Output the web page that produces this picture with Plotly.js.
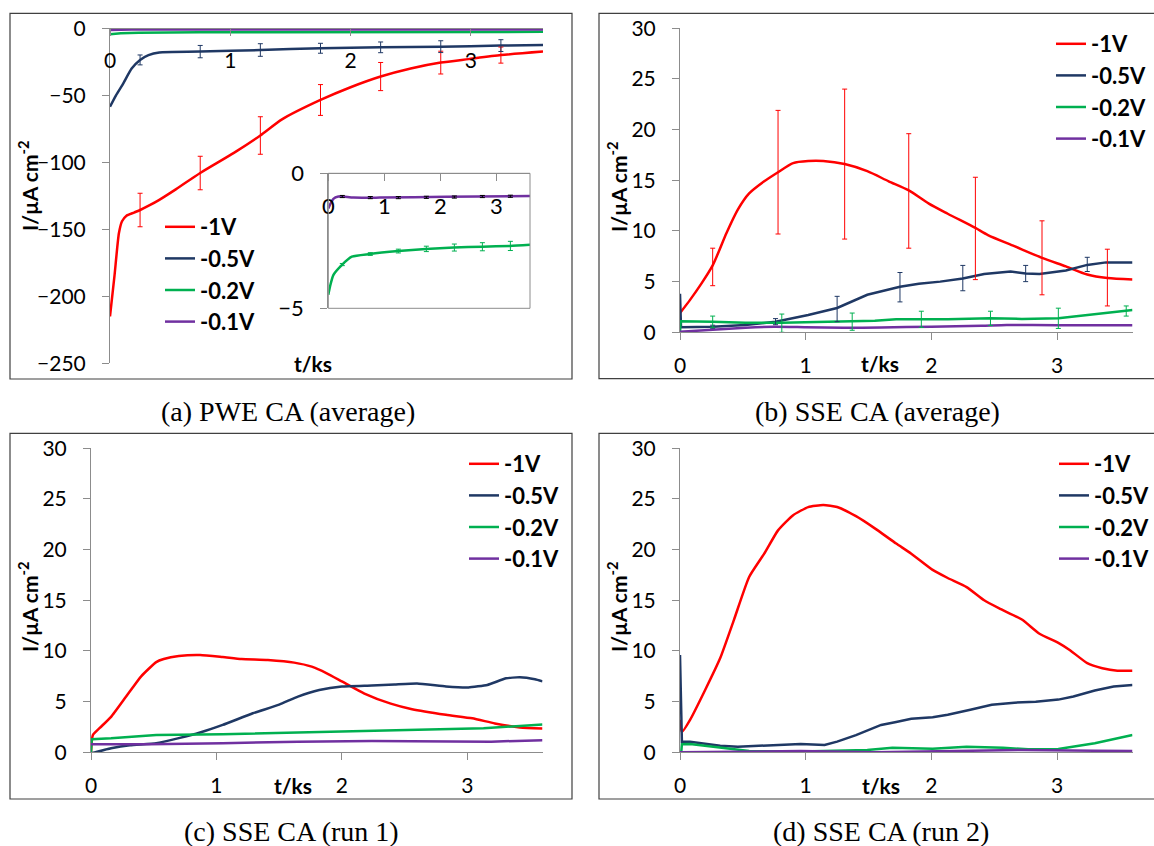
<!DOCTYPE html>
<html>
<head>
<meta charset="utf-8">
<script src="https://cdn.plot.ly/plotly-3.0.1.min.js"></script>
<style>html,body{margin:0;padding:0;background:#fff;}#chart{width:1154px;height:846px;}</style>
</head>
<body>
<div id="chart"></div>
<script>
// ---------------- DATA ----------------
const seriesNames = ['-1V', '-0.5V', '-0.2V', '-0.1V'];
const captions = ['(a) PWE CA (average)', '(b) SSE CA (average)', '(c) SSE CA (run 1)', '(d) SSE CA (run 2)'];
const yTitle = 'I/µA cm<sup>-2</sup>';
const xTitle = 't/ks';
const xTickVals = [0, 1, 2, 3];
const yTicksA = [0, -50, -100, -150, -200, -250];
const yTicksInset = [0, -5];
const yTicksSSE = [0, 5, 10, 15, 20, 25, 30];

// (a) PWE CA average
const a_t_1V = [0, 0.037, 0.074, 0.1, 0.135, 0.2, 0.25, 0.33, 0.41, 0.55, 0.75, 1.03, 1.25, 1.43, 1.75, 2.0, 2.25, 2.5, 2.75, 2.98, 3.25, 3.6];
const a_1V   = [-215, -185, -153, -144, -140, -137.5, -135.6, -132, -128, -120, -108, -93, -80, -68, -53.5, -44, -36, -30, -25.6, -23, -20, -17.4];
const a_t_05 = [0, 0.05, 0.105, 0.18, 0.25, 0.32, 0.41, 0.75, 1.25, 1.75, 2.25, 2.75, 3.25, 3.6];
const a_05   = [-58.5, -50, -42, -30, -23.6, -20, -18, -17.4, -16.2, -14.9, -14.2, -13.7, -12.9, -12.4];
const a_t_02 = [0, 0.03, 0.09, 0.24, 0.42, 0.74, 1.25, 1.74, 2.24, 2.75, 3.24, 3.6];
const a_02   = [-4.5, -4.2, -3.77, -3.4, -3.09, -2.99, -2.88, -2.8, -2.75, -2.72, -2.69, -2.65];
const a_t_01 = [0, 0.09, 0.18, 0.27, 0.45, 0.92, 2.1, 3.6];
const a_01   = [-1.3, -0.95, -0.86, -0.86, -0.9, -0.9, -0.87, -0.84];
const a_err_t  = [0.25, 0.75, 1.25, 1.75, 2.25, 2.75, 3.25];
const a_err_y_1V = [-135.6, -108, -80, -53.5, -36, -25.6, -20];
const a_err_1V   = [12.5, 12.5, 14, 11.5, 10.5, 8.5, 6];
const a_err_y_05 = [-23.6, -17.4, -16.2, -14.9, -14.2, -13.7, -12.9];
const a_err_05   = [3.7, 4.6, 4.7, 3.7, 4, 4.4, 4.4];
const a_err_y_02 = [-3.38, -2.99, -2.88, -2.8, -2.75, -2.72, -2.69];
const a_err_02   = [0.04, 0.05, 0.07, 0.1, 0.13, 0.15, 0.17];
const a_err_y_01 = [-0.86, -0.9, -0.9, -0.89, -0.88, -0.86, -0.85];
const a_err_01   = [0.04, 0.04, 0.04, 0.04, 0.04, 0.04, 0.04];

// (b) SSE CA average
const b_t_1V = [0, 0.08, 0.17, 0.26, 0.37, 0.46, 0.55, 0.67, 0.78, 0.9, 1.02, 1.14, 1.31, 1.49, 1.66, 1.82, 1.98, 2.13, 2.35, 2.45, 2.66, 2.88, 3.07, 3.24, 3.4, 3.6];
const b_1V   = [1.9, 3.2, 4.8, 6.6, 9.8, 12.1, 13.7, 14.9, 15.8, 16.7, 16.9, 16.9, 16.6, 15.9, 14.9, 14.0, 12.7, 11.7, 10.3, 9.6, 8.5, 7.35, 6.5, 5.7, 5.35, 5.2];
const b_t_05 = [0, 0.008, 0.26, 0.52, 0.76, 1.02, 1.25, 1.49, 1.75, 1.9, 2.07, 2.25, 2.42, 2.63, 2.75, 2.86, 3.07, 3.24, 3.39, 3.6];
const b_05   = [3.8, 0.5, 0.56, 0.72, 1.05, 1.7, 2.4, 3.7, 4.5, 4.8, 5.0, 5.3, 5.75, 6.0, 5.8, 5.75, 6.1, 6.65, 6.9, 6.9];
const b_t_02 = [0, 0.005, 0.26, 0.52, 0.81, 1.1, 1.37, 1.55, 1.72, 1.92, 2.13, 2.47, 2.72, 3.01, 3.3, 3.6];
const b_02   = [0, 1.1, 1.05, 0.95, 0.95, 1.0, 1.05, 1.15, 1.28, 1.28, 1.3, 1.38, 1.32, 1.38, 1.8, 2.2];
const b_t_01 = [0, 0.26, 0.52, 0.75, 1.0, 1.3, 1.6, 2.0, 2.4, 2.6, 3.0, 3.6];
const b_01   = [0.05, 0.25, 0.45, 0.55, 0.5, 0.45, 0.48, 0.55, 0.65, 0.72, 0.7, 0.7];
const b_err_t_1V = [0.26, 0.78, 1.31, 1.82, 2.35, 2.88, 3.4];
const b_err_y_1V = [6.45, 15.8, 16.6, 13.95, 10.25, 7.35, 5.4];
const b_err_1V   = [1.85, 6.1, 7.4, 5.65, 5.05, 3.65, 2.8];
const b_err_t_05 = [0.26, 0.76, 1.25, 1.75, 2.25, 2.75, 3.24];
const b_err_y_05 = [0.55, 1.05, 2.3, 4.45, 5.35, 5.8, 6.7];
const b_err_05   = [0.15, 0.3, 1.25, 1.45, 1.25, 0.8, 0.7];
const b_err_t_02 = [0.26, 0.81, 1.37, 1.92, 2.47, 3.01, 3.55];
const b_err_y_02 = [1.05, 0.9, 1.05, 1.28, 1.38, 1.38, 2.1];
const b_err_02   = [0.55, 0.9, 0.85, 0.8, 0.7, 1.0, 0.5];

// (c) SSE CA run 1
const c_t_1V = [0, 0.015, 0.07, 0.16, 0.28, 0.4, 0.52, 0.58, 0.7, 0.87, 1.05, 1.2, 1.41, 1.62, 1.76, 1.88, 2.0, 2.18, 2.39, 2.56, 2.83, 3.04, 3.22, 3.42, 3.6];
const c_1V   = [0, 1.7, 2.4, 3.5, 5.5, 7.5, 8.9, 9.2, 9.5, 9.6, 9.4, 9.2, 9.1, 8.85, 8.45, 7.8, 7.0, 5.8, 4.8, 4.25, 3.7, 3.35, 2.85, 2.45, 2.35];
const c_t_05 = [0, 0.16, 0.31, 0.52, 0.7, 0.87, 1.05, 1.29, 1.5, 1.65, 1.82, 2.0, 2.24, 2.42, 2.6, 2.83, 3.01, 3.16, 3.31, 3.42, 3.54, 3.6];
const c_05   = [-0.1, 0.4, 0.7, 0.9, 1.4, 1.95, 2.7, 3.85, 4.7, 5.5, 6.15, 6.5, 6.6, 6.7, 6.8, 6.5, 6.4, 6.65, 7.3, 7.4, 7.2, 7.0];
const c_t_02 = [0, 0.006, 0.16, 0.52, 1.05, 1.65, 2.24, 2.83, 3.13, 3.42, 3.6];
const c_02   = [0, 1.3, 1.38, 1.7, 1.78, 1.95, 2.1, 2.27, 2.37, 2.6, 2.75];
const c_t_01 = [0, 0.46, 1.05, 1.65, 2.24, 2.83, 3.19, 3.6];
const c_01   = [0.8, 0.8, 0.9, 1.05, 1.12, 1.12, 1.05, 1.2];

// (d) SSE CA run 2
const d_t_1V = [0, 0.015, 0.08, 0.2, 0.32, 0.43, 0.55, 0.67, 0.78, 0.9, 1.02, 1.14, 1.25, 1.4, 1.55, 1.72, 1.84, 2.01, 2.13, 2.28, 2.42, 2.54, 2.72, 2.86, 3.01, 3.1, 3.24, 3.36, 3.48, 3.6];
const d_1V   = [3.2, 2.0, 3.2, 6.15, 9.3, 13.1, 17.3, 19.6, 21.9, 23.4, 24.2, 24.4, 24.2, 23.3, 22.1, 20.6, 19.6, 18.0, 17.2, 16.3, 15.0, 14.2, 13.1, 11.7, 10.8, 10.1, 8.8, 8.3, 8.05, 8.05];
const d_t_05 = [0, 0.015, 0.08, 0.32, 0.46, 0.76, 0.96, 1.15, 1.25, 1.4, 1.6, 1.72, 1.84, 2.01, 2.13, 2.31, 2.48, 2.66, 2.83, 3.01, 3.13, 3.3, 3.45, 3.6];
const d_05   = [9.6, 1.05, 1.05, 0.65, 0.55, 0.72, 0.82, 0.72, 1.05, 1.7, 2.7, 3.0, 3.3, 3.45, 3.7, 4.2, 4.7, 4.9, 5.0, 5.2, 5.5, 6.1, 6.5, 6.65];
const d_t_02 = [0.01, 0.015, 0.08, 0.37, 0.55, 0.96, 1.25, 1.49, 1.69, 2.01, 2.28, 2.57, 2.77, 3.01, 3.3, 3.6];
const d_02   = [0, 0.8, 0.82, 0.4, 0.13, 0.07, 0.13, 0.23, 0.45, 0.36, 0.56, 0.45, 0.3, 0.33, 0.9, 1.7];
const d_t_01 = [0, 0.37, 0.96, 1.55, 2.13, 2.72, 3.3, 3.6];
const d_01   = [0, 0.07, 0.13, 0.0, 0.13, 0.23, 0.16, 0.13];

// ---------------- STYLE / LAYOUT ----------------
const COLORS = ['#ff0000', '#1f3864', '#00b050', '#7030a0'];
const FONT = 'Lato, "Open Sans", sans-serif';
const SERIF = '"Liberation Serif", "Times New Roman", serif';
const W = 1154, H = 846;
const px = x => x / W;
const py = y => 1 - y / H;
const AXC = '#8c8c8c';

function line(t, v, i, xa, ya, leg, show, smooth) {
  const ln = {color: COLORS[i], width: 2.5};
  if (smooth) { ln.shape = 'spline'; ln.smoothing = smooth; }
  return {x: t, y: v, xaxis: xa, yaxis: ya, type: 'scatter', mode: 'lines',
    line: ln, name: seriesNames[i],
    legend: leg, showlegend: show, legendgroup: leg + i, hoverinfo: 'skip'};
}
function errs(t, v, e, color, xa, ya) {
  return {x: t, y: v, xaxis: xa, yaxis: ya, type: 'scatter', mode: 'markers',
    marker: {size: 2, opacity: 0, color: color}, showlegend: false, hoverinfo: 'skip',
    error_y: {type: 'data', array: e, visible: true, color: color, thickness: 1, width: 2.5}};
}

const data = [
  // (a)
  line(a_t_1V, a_1V, 0, 'x', 'y', 'legend', true, 0.6),
  line(a_t_05, a_05, 1, 'x', 'y', 'legend', true, 0.6),
  line(a_t_02, a_02, 2, 'x', 'y', 'legend', true),
  line(a_t_01, a_01, 3, 'x', 'y', 'legend', true),
  errs(a_err_t, a_err_y_1V, a_err_1V, COLORS[0], 'x', 'y'),
  errs(a_err_t, a_err_y_05, a_err_05, COLORS[1], 'x', 'y'),
  // inset
  line(a_t_02, a_02, 2, 'x2', 'y2', 'legend', false, 0.6),
  line(a_t_01, a_01, 3, 'x2', 'y2', 'legend', false, 0.6),
  errs(a_err_t, a_err_y_02, a_err_02, COLORS[2], 'x2', 'y2'),
  errs(a_err_t, a_err_y_01, a_err_01, '#000000', 'x2', 'y2'),
  // (b)
  line(b_t_1V, b_1V, 0, 'x3', 'y3', 'legend2', true, 0.7),
  line(b_t_05, b_05, 1, 'x3', 'y3', 'legend2', true),
  line(b_t_02, b_02, 2, 'x3', 'y3', 'legend2', true),
  line(b_t_01, b_01, 3, 'x3', 'y3', 'legend2', true, 0.6),
  errs(b_err_t_1V, b_err_y_1V, b_err_1V, COLORS[0], 'x3', 'y3'),
  errs(b_err_t_05, b_err_y_05, b_err_05, COLORS[1], 'x3', 'y3'),
  errs(b_err_t_02, b_err_y_02, b_err_02, COLORS[2], 'x3', 'y3'),
  // (c)
  line(c_t_1V, c_1V, 0, 'x4', 'y4', 'legend3', true, 0.5),
  line(c_t_05, c_05, 1, 'x4', 'y4', 'legend3', true, 0.4),
  line(c_t_02, c_02, 2, 'x4', 'y4', 'legend3', true),
  line(c_t_01, c_01, 3, 'x4', 'y4', 'legend3', true),
  // (d)
  line(d_t_1V, d_1V, 0, 'x5', 'y5', 'legend4', true, 0.5),
  line(d_t_05, d_05, 1, 'x5', 'y5', 'legend4', true),
  line(d_t_02, d_02, 2, 'x5', 'y5', 'legend4', true),
  line(d_t_01, d_01, 3, 'x5', 'y5', 'legend4', true)
];

function xAxis(x0, x1, extra) {
  return Object.assign({domain: [px(x0), px(x1)], range: [0, 3.6], tickvals: xTickVals,
    showline: true, linecolor: AXC, linewidth: 1, ticks: 'outside', ticklen: 7, tickcolor: AXC,
    showgrid: false, zeroline: false, tickfont: {family: FONT, size: 21, color: '#000'},
    ticklabelstandoff: 7, fixedrange: true}, extra || {});
}
function yAxis(y0, y1, range, vals, extra) {
  return Object.assign({domain: [py(y1), py(y0)], range: range, tickvals: vals,
    showline: true, linecolor: AXC, linewidth: 1, ticks: 'outside', ticklen: 7, tickcolor: AXC,
    showgrid: false, zeroline: false, tickfont: {family: FONT, size: 21, color: '#000'},
    ticklabelstandoff: 12, fixedrange: true}, extra || {});
}

// pixel geometry
const A = {x0: 110, x1: 543, y0: 28.3, y1: 363.3};
const I = {x0: 328.3, x1: 530, y0: 173.3, y1: 308.3};
const B = {x0: 680, x1: 1132.5, y0: 28.3, y1: 332.3};
const C = {x0: 91, x1: 542.5, y0: 448.3, y1: 752.3};
const D = {x0: 680, x1: 1132.5, y0: 448.3, y1: 752.3};

function legendAt(x, y, gap) {
  return {x: px(x), y: py(y), xanchor: 'left', yanchor: 'top', bgcolor: 'rgba(0,0,0,0)',
    font: {family: FONT, size: 22, color: '#000', weight: 'bold'}, tracegroupgap: gap,
    itemwidth: 30, traceorder: 'normal'};
}

function ann(text, x, y, opts) {
  return Object.assign({text: text, x: px(x), y: py(y), xref: 'paper', yref: 'paper',
    showarrow: false, xanchor: 'center', yanchor: 'middle',
    font: {family: FONT, size: 21, color: '#000', weight: 'bold'}}, opts || {});
}
function cap(text, x, y) {
  return ann(text, x, y, {font: {family: SERIF, size: 28, color: '#000'}});
}

const boxes = [[10, 13.3, 572, 379], [599, 13.3, 1160, 378.7], [10, 433.3, 572, 799], [599, 433.3, 1160, 799]];
const shapes = boxes.map(b => ({type: 'rect', xref: 'paper', yref: 'paper',
  x0: px(b[0]), x1: px(b[2]), y0: py(b[3]), y1: py(b[1]), line: {color: '#404040', width: 1.2}}));
shapes.push({type: 'rect', xref: 'x2 domain', yref: 'y2 domain', x0: 0, x1: 1, y0: 0, y1: 1,
  line: {color: AXC, width: 1}});

const layout = {
  width: W, height: H, margin: {l: 0, r: 0, t: 0, b: 0},
  paper_bgcolor: '#ffffff', plot_bgcolor: 'rgba(0,0,0,0)',
  xaxis: xAxis(A.x0, A.x1, {anchor: 'free', position: py(A.y0), side: 'bottom', ticklabelstandoff: 6}),
  yaxis: yAxis(A.y0, A.y1, [-250, 0], yTicksA, {anchor: 'x'}),
  xaxis2: xAxis(I.x0, I.x1, {anchor: 'free', position: py(I.y0), side: 'bottom', tickfont: {family: FONT, size: 22, color: '#000'}, ticklabelstandoff: 6}),
  yaxis2: yAxis(I.y0, I.y1, [-5, 0], yTicksInset, {anchor: 'x2', tickfont: {family: FONT, size: 22, color: '#000'}}),
  xaxis3: xAxis(B.x0, B.x1, {anchor: 'y3'}),
  yaxis3: yAxis(B.y0, B.y1, [0, 30], yTicksSSE, {anchor: 'x3'}),
  xaxis4: xAxis(C.x0, C.x1, {anchor: 'y4'}),
  yaxis4: yAxis(C.y0, C.y1, [0, 30], yTicksSSE, {anchor: 'x4'}),
  xaxis5: xAxis(D.x0, D.x1, {anchor: 'y5'}),
  yaxis5: yAxis(D.y0, D.y1, [0, 30], yTicksSSE, {anchor: 'x5'}),
  legend: legendAt(160, 206, 5),
  legend2: legendAt(1051, 23, 1),
  legend3: legendAt(464, 443, 1),
  legend4: legendAt(1054, 443, 1),
  shapes: shapes,
  annotations: [
    ann(yTitle, 28, 186, {textangle: -90}),
    ann(yTitle, 617, 187, {textangle: -90}),
    ann(yTitle, 28, 607, {textangle: -90}),
    ann(yTitle, 617, 607, {textangle: -90}),
    ann(xTitle, 313, 363),
    ann(xTitle, 880, 363),
    ann(xTitle, 293, 785),
    ann(xTitle, 881, 785),
    cap(captions[0], 288, 411),
    cap(captions[1], 877, 411),
    cap(captions[2], 291, 831),
    cap(captions[3], 881, 831)
  ]
};

Plotly.newPlot('chart', data, layout, {displayModeBar: false, staticPlot: true});
</script>
</body>
</html>
